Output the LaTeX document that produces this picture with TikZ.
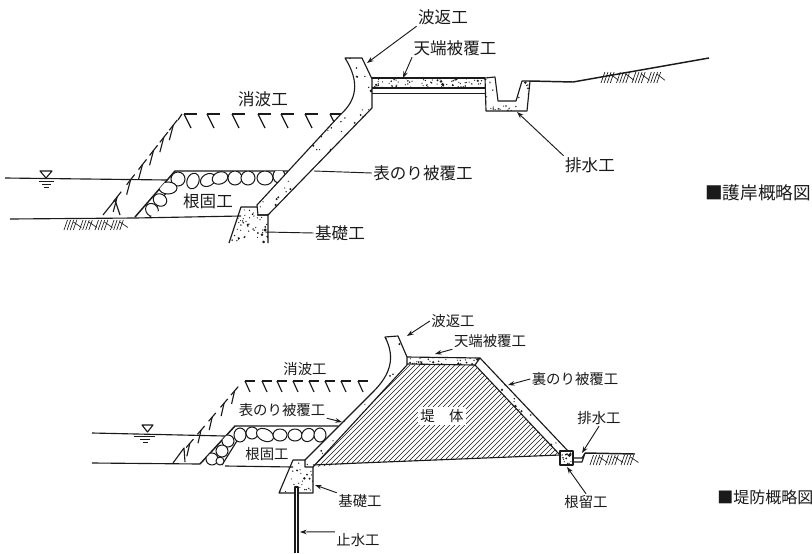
\documentclass[tikz,border=0pt]{standalone}
\usepackage{fontspec}
\setmainfont{Noto Sans CJK JP}
\usetikzlibrary{calc,arrows.meta}
\definecolor{ink}{HTML}{1A1A1A}
\tikzset{
 base/.style={draw=ink,line width=0.85pt,line join=round},
 thin line/.style={draw=ink,line width=0.5pt},
 heavy/.style={draw=ink,line width=1.1pt},
 lead/.style={draw=ink,line width=0.7pt},
 leadarrow/.style={lead,-{Stealth[length=5pt,width=3.5pt]}},
 lblA/.style={font=\fontsize{12.4}{13}\selectfont,text=ink,inner sep=1pt},
 lblB/.style={font=\fontsize{10.8}{12}\selectfont,text=ink,inner sep=1pt},
 capt/.style={font=\fontsize{13.2}{14}\selectfont,text=ink,inner sep=0pt,anchor=west},
 stone/.style={draw=ink,line width=0.75pt,fill=white},
 hatch/.style={draw=ink,line width=0.5pt},
}
% random stipple inside the current clip: x1 x2 y1 y2 count
\newcommand{\stipplebox}[5]{%
 \foreach \i in {1,...,#5}{%
  \pgfmathsetmacro{\px}{#1+rnd*(#2-#1)}%
  \pgfmathsetmacro{\py}{#3+rnd*(#4-#3)}%
  \pgfmathsetmacro{\pr}{0.6+1.5*rnd*rnd*rnd}%
  \fill[ink] (\px,\py) circle (\pr);
 }}
% ground strokes: from x, count, y top, height
\newcommand{\groundhatch}[4]{%
 \foreach \i in {1,...,#2}{%
  \pgfmathsetmacro{\hx}{#1+(\i-1)*3.1}%
  \pgfmathtruncatemacro{\hm}{mod(\i,5)}%
  \ifnum\hm=0
   \draw[hatch] (\hx-3,#3+2) -- (\hx+5,#3+#4*0.75);
  \else
   \draw[hatch] (\hx+#4*0.35,#3) -- (\hx,#3+#4);
  \fi
 }}
\begin{document}
\begin{tikzpicture}[x=0.75pt,y=-0.75pt]
\useasboundingbox (0,0) rectangle (812,553);
\pgfmathsetseed{4217}
% ================= UPPER FIGURE =================
% water and ground
\draw[base] (5,178) -- (167,180);
\draw[base] (10,219) -- (135,218);
\draw[base] (135,218) -- (241,216);
\draw[base] (40,171) -- (52,171) -- (46,178) -- cycle;
\draw[thin line] (39,181) -- (54,181) (42,184) -- (51,184) (44,187) -- (49,187);
\groundhatch{64}{20}{220}{10}
% armour blocks
\coordinate (ua) at (182,114);
\coordinate (ub) at (103,215);
\foreach \x in {184,207,232,258,281,305,330}{
  \draw[base] (\x,114) -- (\x+13,114);
  \draw[base] (\x,114) -- (\x+7,128);
}
\foreach \t in {0.11,0.23,0.36,0.50,0.65,0.82}{
  \coordinate (p) at ($(ua)!\t!(ub)$);
  \draw[base] ($(p)+(4,-5.1)$) -- ($(p)+(-4,5.1)$);
  \draw[base] (p) -- ++(-4,15);
}
\draw[base] (182,114) -- (178,120);
\draw[base] (103,215) -- (115,200) -- (120,215);
% riprap
\draw[heavy] (288,171) -- (175,171) -- (135,217);
\draw[base] (150,217) -- (176,178);
\begin{scope}
\clip (175,171) -- (288,171) -- (270,195) -- (190,190) -- (150,217) -- (135,217) -- cycle;
\foreach \x/\y/\a/\b/\r in {178/179/7/7/0,193/181/8/6/70,208/180/8/6/30,220/178/8/6/20,235/178/7/7/0,248/178/7/7/0,265/178/8/7/0,279/176/6/7/0,168/188/9/6/0,160/200/7/6/-30,152/210/7/6/-50}
  \draw[stone] (\x,\y) ellipse [x radius=\a,y radius=\b,rotate=\r];
\end{scope}
% wall
\path[fill=white] (345,58) -- (362,58) -- (372,79) -- (372,108) -- (268,215) -- (258,215) -- (257,205) -- (340,115)
  .. controls (357,100) and (360,82) .. cycle;
\begin{scope}
\clip (345,58) -- (362,58) -- (372,79) -- (372,108) -- (268,215) -- (258,215) -- (257,205) -- (340,115)
  .. controls (357,100) and (360,82) .. cycle;
\stipplebox{255}{373}{58}{215}{170}
\end{scope}
\draw[base] (345,58) -- (362,58) -- (372,79) -- (372,108) -- (268,215) -- (258,215) -- (257,205) -- (340,115)
  .. controls (357,100) and (360,82) .. cycle;
% foundation
\begin{scope}
\clip (241,207) -- (257,207) -- (257,215) -- (268,215) -- (268,243) -- (229,243) -- cycle;
\stipplebox{229}{268}{207}{243}{55}
\end{scope}
\draw[base] (229,243) -- (241,207) -- (257,207) (257,215) -- (268,215) -- (268,243);
% crown
\begin{scope}
\clip (372,78) rectangle (485,88);
\stipplebox{372}{485}{78}{88}{85}
\end{scope}
\draw[base] (372,78) -- (485,78) (372,88) -- (485,88);
\draw[thin line] (372,93) -- (485,93);
% drain
\begin{scope}
\clip (485,78) -- (495,77) -- (498,101) -- (516,101) -- (522,81) -- (530,81) -- (527,111) -- (486,111) -- cycle;
\stipplebox{485}{530}{77}{111}{38}
\end{scope}
\draw[base] (486,111) -- (485,78) -- (495,77) -- (498,101) -- (516,101) -- (522,81) -- (530,81) -- (527,111) -- cycle;
\draw[heavy] (530,81) -- (573,82) -- (709,58);
\groundhatch{601}{20}{72}{11}
% labels
\node[lblA] (uwave) at (443,17) {波返工};
\node[lblA] (ucrown) at (455,48) {天端被覆工};
\node[lblA] (ushoha) at (263,99) {消波工};
\node[lblA] (uface) at (423,173) {表のり被覆工};
\node[lblA] (une) at (208,201) {根固工};
\node[lblA] (ukiso) at (340,233) {基礎工};
\node[lblA] (udrain) at (590,165) {排水工};
\coordinate (uwaveend) at (367,63);
\coordinate (ucrownend) at (403,78);
\coordinate (ufaceend) at (314,171);
\coordinate (ukisoend) at (265,232);
\coordinate (udrainend) at (517,112);
\draw[leadarrow] (uwave.south west) -- (uwaveend);
\draw[leadarrow] (ucrown.south west) -- (ucrownend);
\draw[lead] (uface.west) -- (ufaceend);
\draw[lead] (ukiso.west) -- (ukisoend);
\draw[leadarrow] (udrain.north west) -- (udrainend);
\node[capt] (ucap) at (705,193) {■護岸概略図};
% ================= LOWER FIGURE =================
\draw[base] (92,433) -- (225,436);
\draw[base] (92,463) -- (200,464);
\draw[base] (225,466) -- (293,467);
\draw[base] (142,425) -- (153,425) -- (147.5,432) -- cycle;
\draw[thin line] (134,436) -- (155,436) (140,439) -- (150,439) (143,442) -- (148,442);
% armour
\coordinate (la) at (243,381);
\coordinate (lb) at (173,463);
\foreach \x in {245,262,277,293,309,325,341,358}{
  \draw[base] (\x,381) -- (\x+10,381);
  \draw[base] (\x,381) -- (\x+5,392);
}
\foreach \t in {0.12,0.27,0.44,0.60,0.76}{
  \coordinate (p) at ($(la)!\t!(lb)$);
  \draw[base] ($(p)+(3.6,-4.2)$) -- ($(p)+(-3.6,4.2)$);
  \draw[base] (p) -- ++(-3,13);
}
\draw[base] (173,463) -- (184,448) -- (185,462);
% riprap
\draw[heavy] (338,426) -- (235,426) -- (200,464);
\draw[base] (222,465) -- (240,436);
\begin{scope}
\clip (235,426) -- (338,426) -- (325,446) -- (245,444) -- (225,466) -- (200,465) -- cycle;
\foreach \x/\y/\a/\b/\r in {240/435/6/7/0,252/433/6/6/0,265/435/9/6/-25,280/435/7/6/0,295/435/7/6/0,308/435/7/6/50,320/435/6/7/0,228/441/6/6/0,222/451/6/6/0,212/459/6/6/0,220/461/4/4/0}
  \draw[stone] (\x,\y) ellipse [x radius=\a,y radius=\b,rotate=\r];
\end{scope}
% embankment hatching
\begin{scope}
\clip (313,467) -- (407,365) -- (475,365) -- (560,455) -- (360,463) -- cycle;
\foreach \k in {770,775,...,1035}
  \draw[hatch] (\k-300,300) -- (\k-500,500);
\end{scope}
\draw[base] (313,465) -- (360,463) -- (560,455);
% wall
\begin{scope}
\clip (385,337) -- (398,336) -- (407,357) -- (407,365) -- (313,467) -- (305,467) -- (305,460) -- (373,392)
  .. controls (390,375) and (396,358) .. cycle;
\stipplebox{305}{408}{336}{467}{150}
\end{scope}
\draw[base] (385,337) -- (398,336) -- (407,357) -- (407,365) -- (313,467) -- (305,467) -- (305,460) -- (373,392)
  .. controls (390,375) and (396,358) .. cycle;
% foundation
\begin{scope}
\clip (293,460) -- (305,460) -- (305,467) -- (313,467) -- (313,493) -- (279,493) -- cycle;
\stipplebox{279}{313}{460}{493}{38}
\end{scope}
\draw[base] (305,460) -- (293,460) -- (279,493) -- (313,493) -- (313,467);
% cutoff
\draw[base,fill=white] (295,553) -- (295,487) -- (298,487) -- (298,553);
% crown
\begin{scope}
\clip (407,357) -- (480,358) -- (475,365) -- (407,364) -- cycle;
\stipplebox{407}{480}{357}{365}{42}
\end{scope}
\draw[base] (407,357) -- (480,358) -- (475,365) -- (407,364);
% back slope
\begin{scope}
\clip (480,358) -- (568,451) -- (560,455) -- (475,365) -- cycle;
\stipplebox{475}{573}{358}{455}{85}
\end{scope}
\draw[base] (480,358) -- (568,451) (475,365) -- (560,455);
% toe block and drain
\begin{scope}
\clip (560,451) rectangle (573,465);
\stipplebox{560}{573}{451}{465}{14}
\end{scope}
\draw[base] (560,451) rectangle (573,465);
\draw[base] (573,458) -- (582,458) -- (585,453) -- (582,462) -- (573,462);
\draw[heavy] (585,453) -- (635,454);
\groundhatch{590}{15}{455}{10}
% labels
\node[lblB] (lwave) at (453,321) {波返工};
\node[lblB] (lcrown) at (490,341) {天端被覆工};
\node[lblB] (lshoha) at (305,369) {消波工};
\node[lblB] (lface) at (282,410) {表のり被覆工};
\node[lblB] (lne) at (267,454) {根固工};
\node[lblB,fill=white,inner sep=2pt] (lbody) at (442,416) {堤　体};
\node[lblB] (lback) at (575,379) {裏のり被覆工};
\node[lblB] (ldrain) at (599,418) {排水工};
\node[lblB] (lkiso) at (360,501) {基礎工};
\node[lblB] (lnedome) at (586,502) {根留工};
\node[lblB] (lshisui) at (358,540) {止水工};
\coordinate (lwaveend) at (407,336);
\coordinate (lcrownend) at (435,354);
\coordinate (lfaceend) at (342,422);
\coordinate (lbackend) at (508,385);
\coordinate (ldrainend) at (582,453);
\coordinate (lkisoend) at (315,485);
\coordinate (lnedomeend) at (567,467);
\coordinate (lshisuiend) at (300,532);
\draw[leadarrow] (lwave.west) -- (lwaveend);
\draw[leadarrow] (lcrown.south west) -- (lcrownend);
\draw[leadarrow] (lface.south east) -- (lfaceend);
\draw[leadarrow] (lback.west) -- (lbackend);
\draw[leadarrow] (ldrain.south) -- (ldrainend);
\draw[leadarrow] (lkiso.north west) -- (lkisoend);
\draw[leadarrow] (lnedome.north) -- (lnedomeend);
\draw[leadarrow] (lshisui.north west) -- (lshisuiend);
\node[capt,font=\fontsize{12}{13}\selectfont] (lcap) at (717,497) {■堤防概略図};
\end{tikzpicture}
\end{document}
